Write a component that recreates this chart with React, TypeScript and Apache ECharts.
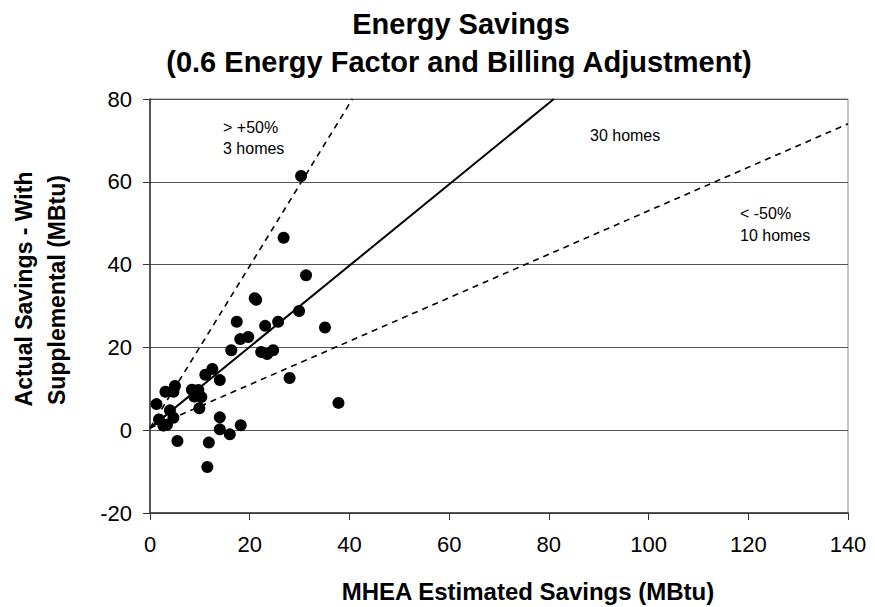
import React, { useEffect, useRef } from "react";
import * as echarts from "echarts";

// Scatter data: MHEA estimated savings (x) vs actual savings (y), MBtu
const estimated = [
  30.3, 26.8, 31.3, 21.0, 21.3, 29.9, 35.1, 17.4, 23.1, 25.7,
  18.1, 19.7, 16.3, 22.3, 23.5, 24.7, 28.0, 37.8, 11.1, 12.5,
  14.0, 5.0, 4.7, 3.1, 8.4, 9.7, 8.9, 10.3, 9.9, 1.3,
  4.0, 4.7, 1.8, 2.7, 3.4, 14.0, 14.0, 16.0, 18.2, 5.5,
  11.8, 11.5,
];
const actual = [
  61.4, 46.5, 37.4, 31.9, 31.5, 28.8, 24.8, 26.2, 25.2, 26.2,
  22.0, 22.5, 19.3, 18.9, 18.4, 19.3, 12.6, 6.6, 13.4, 14.8,
  12.1, 10.7, 9.3, 9.3, 9.8, 9.7, 8.1, 8.0, 5.3, 6.3,
  4.8, 3.0, 2.6, 1.1, 1.3, 3.1, 0.2, -1.0, 1.2, -2.6,
  -3.0, -8.9,
];

// Reference lines (endpoints in data units)
const oneToOneLine = [[0, 0.5], [81, 80]];
const upperLine = [[0, 0.5], [40.6, 80]];
const lowerLine = [[0, 0.5], [140, 74]];

const xTicks = { min: 0, max: 140, interval: 20 };
const yTicks = { min: -20, max: 80, interval: 20 };

const titleLines = ["Energy Savings", "(0.6 Energy Factor and Billing Adjustment)"];
const yNameLines = ["Actual Savings - With", "Supplemental (MBtu)"];
const xName = "MHEA Estimated Savings (MBtu)";
const notes = ["> +50%", "3 homes", "30 homes", "< -50%", "10 homes"];

const FONT = '"Liberation Sans", Arial, Helvetica, sans-serif';

export default function App() {
  const ref = useRef<HTMLDivElement>(null);

  useEffect(() => {
    if (!ref.current) return;
    const chart = echarts.init(ref.current, undefined, { renderer: "svg" });
    const points = estimated.map((x, i) => [x, actual[i]]);

    const txt = (text: string, x: number, y: number, font: string, align = "left", rotation = 0) => ({
      type: "text",
      x,
      y,
      rotation,
      silent: true,
      style: {
        text,
        font,
        fill: "#000",
        textAlign: align,
        textVerticalAlign: "middle",
      },
    });

    chart.setOption({
      animation: false,
      backgroundColor: "#fff",
      textStyle: { fontFamily: FONT },
      grid: {
        left: 150,
        right: 27,
        top: 99,
        bottom: 94,
        show: true,
        borderColor: "#8a8a8a",
        borderWidth: 1,
        containLabel: false,
      },
      xAxis: {
        type: "value",
        min: xTicks.min,
        max: xTicks.max,
        interval: xTicks.interval,
        axisLine: { onZero: false, lineStyle: { color: "#333", width: 1.5 } },
        axisTick: { show: true, inside: false, length: 7, lineStyle: { color: "#333" } },
        axisLabel: { fontSize: 22, color: "#000", margin: 20, fontFamily: FONT },
        splitLine: { show: false },
      },
      yAxis: {
        type: "value",
        min: yTicks.min,
        max: yTicks.max,
        interval: yTicks.interval,
        axisLine: { show: true, onZero: false, lineStyle: { color: "#333", width: 1.5 } },
        axisTick: { show: true, inside: false, length: 7, lineStyle: { color: "#333" } },
        axisLabel: { fontSize: 22, color: "#000", margin: 18, fontFamily: FONT },
        splitLine: { show: true, lineStyle: { color: "#555", width: 1 } },
      },
      series: [
        {
          type: "line",
          data: oneToOneLine,
          symbol: "none",
          silent: true,
          lineStyle: { color: "#000", width: 2 },
          z: 3,
        },
        {
          type: "line",
          data: upperLine,
          symbol: "none",
          silent: true,
          lineStyle: { color: "#000", width: 1.6, type: [6, 5] },
          z: 3,
        },
        {
          type: "line",
          data: lowerLine,
          symbol: "none",
          silent: true,
          lineStyle: { color: "#000", width: 1.6, type: [6, 5] },
          z: 3,
        },
        {
          type: "scatter",
          data: points,
          symbol: "circle",
          symbolSize: 12,
          itemStyle: { color: "#000", opacity: 1 },
          z: 5,
        },
      ],
      graphic: [
        txt(titleLines[0], 461, 24, `bold 29px ${FONT}`, "center"),
        txt(titleLines[1], 459, 62, `bold 29px ${FONT}`, "center"),
        txt(yNameLines[0], 24, 289, `bold 23px ${FONT}`, "center", Math.PI / 2),
        txt(yNameLines[1], 57, 290, `bold 23px ${FONT}`, "center", Math.PI / 2),
        txt(xName, 528, 591, `bold 24px ${FONT}`, "center"),
        txt(notes[0], 223, 127, `16px ${FONT}`),
        txt(notes[1], 223, 148, `16px ${FONT}`),
        txt(notes[2], 590, 135, `16px ${FONT}`),
        txt(notes[3], 740, 213, `16px ${FONT}`),
        txt(notes[4], 740, 235, `16px ${FONT}`),
      ],
    });

    return () => chart.dispose();
  }, []);

  return (
    <div
      ref={ref}
      style={{ position: "fixed", left: 0, top: 0, width: 875, height: 607, background: "#fff" }}
    />
  );
}
